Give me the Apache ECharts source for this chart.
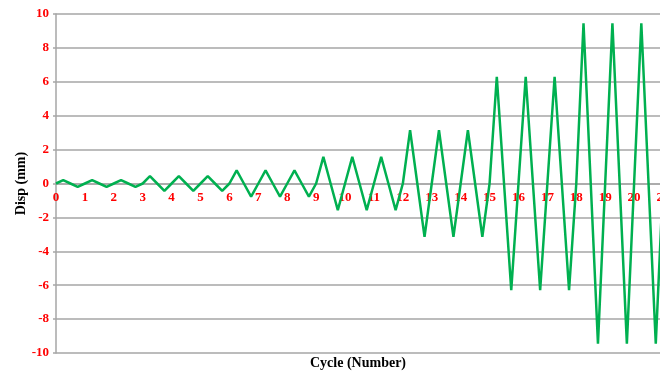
<!DOCTYPE html>
<html>
<head>
<meta charset="utf-8">
<script src="https://cdn.jsdelivr.net/npm/echarts@6/dist/echarts.min.js"></script>
<style>html,body{margin:0;padding:0;background:#fff;}#c{width:660px;height:376px;}</style>
</head>
<body>
<div id="c"></div>
<script>
// Cycle time (Number) for each vertex of the displacement history
var cycleTime = [
  0, 0.25, 0.5, 0.75, 1, 1.25, 1.5, 1.75, 2, 2.25, 2.5, 2.75,
  3, 3.25, 3.5, 3.75, 4, 4.25, 4.5, 4.75, 5, 5.25, 5.5, 5.75,
  6, 6.25, 6.5, 6.75, 7, 7.25, 7.5, 7.75, 8, 8.25, 8.5, 8.75,
  9, 9.25, 9.5, 9.75, 10, 10.25, 10.5, 10.75, 11, 11.25, 11.5, 11.75,
  12, 12.25, 12.5, 12.75, 13, 13.25, 13.5, 13.75, 14, 14.25, 14.5, 14.75,
  15, 15.25, 15.5, 15.75, 16, 16.25, 16.5, 16.75, 17, 17.25, 17.5, 17.75,
  18, 18.25, 18.5, 18.75, 19, 19.25, 19.5, 19.75, 20, 20.25, 20.5, 20.75, 21
];
// Displacement (mm) at each vertex
var disp = [
  0, 0.2, 0, -0.2, 0, 0.2, 0, -0.2, 0, 0.2, 0, -0.2,
  0, 0.43, 0, -0.43, 0, 0.43, 0, -0.43, 0, 0.43, 0, -0.43,
  0, 0.78, 0, -0.78, 0, 0.78, 0, -0.78, 0, 0.78, 0, -0.78,
  0, 1.57, 0, -1.57, 0, 1.57, 0, -1.57, 0, 1.57, 0, -1.57,
  0, 3.15, 0, -3.15, 0, 3.15, 0, -3.15, 0, 3.15, 0, -3.15,
  0, 6.3, 0, -6.3, 0, 6.3, 0, -6.3, 0, 6.3, 0, -6.3,
  0, 9.45, 0, -9.45, 0, 9.45, 0, -9.45, 0, 9.45, 0, -9.45, 0
];
var yTicks = [-10, -8, -6, -4, -2, 0, 2, 4, 6, 8, 10];
var xTicks = [0,1,2,3,4,5,6,7,8,9,10,11,12,13,14,15,16,17,18,19,20,21];

var points = cycleTime.map(function (t, i) { return [t, disp[i]]; });
var serif = '"Liberation Serif","Times New Roman",serif';
var gridTop = 14, gridBottom = 23, H = 376;

var chart = echarts.init(document.getElementById('c'));
chart.setOption({
  animation: false,
  backgroundColor: '#ffffff',
  grid: { left: 56, right: -3, top: gridTop, bottom: gridBottom, containLabel: false, outerBoundsMode: 'none' },
  xAxis: {
    type: 'value',
    min: xTicks[0], max: xTicks[xTicks.length - 1], interval: 1,
    offset: -(H - gridTop - gridBottom) / 2,
    axisLine: { show: true, onZero: false, lineStyle: { color: '#a6a6a6', width: 1.5 } },
    axisTick: { show: false },
    splitLine: { show: false },
    axisLabel: { color: '#ff0000', fontFamily: serif, fontWeight: 'bold', fontSize: 13, margin: 8 }
  },
  yAxis: {
    type: 'value',
    min: yTicks[0], max: yTicks[yTicks.length - 1], interval: 2,
    name: 'Disp (mm)',
    nameLocation: 'middle',
    nameGap: 28,
    nameMoveOverlap: false,
    nameRotate: 90,
    nameTextStyle: { color: '#000', fontFamily: serif, fontWeight: 'bold', fontSize: 14 },
    axisLine: { show: true, onZero: false, lineStyle: { color: '#a6a6a6', width: 1.5 } },
    axisTick: { show: true, length: 3, lineStyle: { color: '#a6a6a6', width: 1.5 } },
    splitLine: { show: true, lineStyle: { color: '#a6a6a6', width: 1.5 } },
    axisLabel: { color: '#ff0000', fontFamily: serif, fontWeight: 'bold', fontSize: 13, margin: 7 }
  },
  graphic: [{
    type: 'text', left: 358 - 48, top: 356,
    style: { text: 'Cycle (Number)', fill: '#000', font: 'bold 14px ' + serif }
  }],
  series: [{
    type: 'line',
    data: points,
    showSymbol: false,
    lineStyle: { color: '#00b050', width: 2.5 },
    clip: true
  }]
});
</script>
</body>
</html>
